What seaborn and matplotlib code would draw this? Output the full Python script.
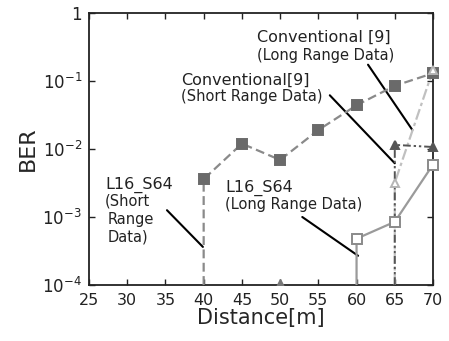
import numpy as np
import pandas as pd
import matplotlib
matplotlib.use("Agg")
import matplotlib.pyplot as plt
import seaborn as sns

# Data
conv_short_x = [40, 40, 45, 50, 55, 60, 65, 70]
conv_short_y = [1e-4, 3.6e-3, 1.2e-2, 6.9e-3, 1.9e-2, 4.4e-2, 8.5e-2, 1.3e-1]
l16_long_x = [60, 60, 65, 70]
l16_long_y = [1e-4, 4.8e-4, 8.5e-4, 5.9e-3]
conv_long_x = [65, 65, 70]
conv_long_y = [1e-4, 1.15e-2, 1.07e-2]
l16_tri_x = [65, 65, 70]
l16_tri_y = [1e-4, 3.2e-3, 1.45e-1]
extra_x = [50]
extra_y = [1e-4]
xticks = [25, 30, 35, 40, 45, 50, 55, 60, 65, 70]
yticks = [1e-4, 1e-3, 1e-2, 1e-1, 1]
ytick_labels = ["$10^{-4}$", "$10^{-3}$", "$10^{-2}$", "$10^{-1}$", "1"]

sns.set_style("ticks")
plt.rcParams['font.family'] = ['DejaVu Sans']

fig = plt.figure(figsize=(4.49, 3.41), dpi=100)
ax = fig.add_axes([89/449, 1-285/341, 344/449, 272/341])

def draw(xs, ys, color, ls, marker, mfc, mec, lw=1.6, ms=7, zorder=3):
    df = pd.DataFrame({"x": xs, "y": ys})
    sns.lineplot(data=df, x="x", y="y", sort=False, estimator=None,
                 ax=ax, color=color, linestyle=ls, linewidth=lw, zorder=zorder)
    ax.plot(xs[1:], ys[1:], linestyle="none", marker=marker, markersize=ms,
            markerfacecolor=mfc, markeredgecolor=mec, markeredgewidth=1.4,
            zorder=zorder + 1, clip_on=False)

draw(conv_short_x, conv_short_y, "#8a8a8a", (0, (4, 2)), "s", "#6a6a6a", "#6a6a6a")
draw(l16_long_x, l16_long_y, "#9a9a9a", "-", "s", "white", "#8a8a8a")
draw(l16_tri_x, l16_tri_y, "#c0c0c0", (0, (5, 1.5, 1.5, 1.5)), "^", "white", "#b5b5b5", ms=6)
draw(conv_long_x, conv_long_y, "#555555", (0, (4, 1.5, 1.2, 1.5, 1.2, 1.5)), "^", "#555555", "#555555", lw=1.4, ms=6)
ax.plot(extra_x, extra_y, linestyle="none", marker="^", markersize=8,
        markerfacecolor="#777777", markeredgecolor="#777777", clip_on=True, zorder=5)

ax.set_yscale("log")
ax.set_xlim(25, 70)
ax.set_ylim(1e-4, 1)
ax.set_xticks(xticks)
ax.set_xticklabels([str(t) for t in xticks], fontsize=11.5)
ax.set_yticks(yticks)
ax.set_yticklabels(ytick_labels, fontsize=12)
ax.yaxis.set_minor_locator(matplotlib.ticker.NullLocator())
ax.tick_params(direction="in", top=True, right=True, length=4, width=1, colors="#222222")
ax.tick_params(axis="x", pad=6)
ax.tick_params(axis="y", pad=5)
for s in ax.spines.values():
    s.set_linewidth(1.3)
    s.set_color("#222222")
ax.set_xlabel("Distance[m]", fontsize=15, labelpad=0)
ax.set_ylabel("BER", fontsize=16, labelpad=3)

tc = "#222222"
fs = 11.5
fs2 = 10.5
ax.text(27.1, 10**-2.53, "L16_S64", fontsize=fs, color=tc, va="center")
ax.text(27.1, 10**-2.76, "(Short", fontsize=fs2, color=tc, va="center")
ax.text(27.4, 10**-3.03, "Range", fontsize=fs2, color=tc, va="center")
ax.text(27.4, 10**-3.29, "Data)", fontsize=fs2, color=tc, va="center")
ax.plot([35.2, 39.9], [10**-2.90, 10**-3.44], color="black", lw=1.5)

ax.text(42.8, 10**-2.57, "L16_S64", fontsize=fs, color=tc, va="center")
ax.text(42.8, 10**-2.82, "(Long Range Data)", fontsize=fs2, color=tc, va="center")
ax.plot([52.9, 60.2], [10**-3.0, 10**-3.57], color="black", lw=1.5)

ax.text(37.0, 10**-0.985, "Conventional[9]", fontsize=fs, color=tc, va="center")
ax.text(37.0, 10**-1.235, "(Short Range Data)", fontsize=fs2, color=tc, va="center")
ax.plot([56.5, 65.0], [10**-1.21, 10**-2.21], color="black", lw=1.5)

ax.text(47.0, 10**-0.353, "Conventional [9]", fontsize=fs, color=tc, va="center")
ax.text(47.0, 10**-0.63, "(Long Range Data)", fontsize=fs2, color=tc, va="center")
ax.plot([61.5, 67.3], [10**-0.76, 10**-1.72], color="black", lw=1.5)

fig.savefig("out.png", dpi=100)
